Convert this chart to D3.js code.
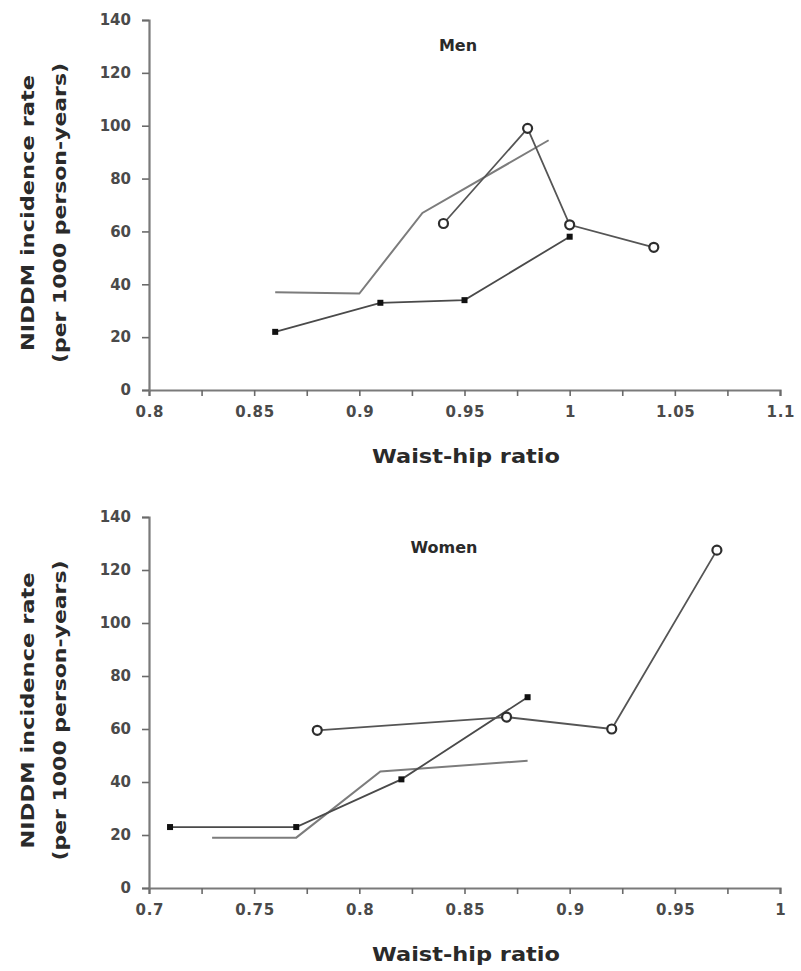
<!DOCTYPE html>
<html>
<head>
<meta charset="utf-8">
<script src="https://cdn.jsdelivr.net/npm/d3@7"></script>
<style>
  body { margin: 0; background: #fff; }
  svg { display: block; }
  .tick text { font-family: "DejaVu Sans", sans-serif; font-weight: bold; fill: #4a4a4a; }
  .lbl { font-family: "DejaVu Sans", sans-serif; font-weight: bold; fill: #2a2a2a; }
</style>
</head>
<body>
<svg id="chart" width="801" height="971"></svg>
<script>
// ---- data ----
const yTicks = [0, 20, 40, 60, 80, 100, 120, 140];

// Men
const menSquareX = [0.86, 0.91, 0.95, 1.00];
const menSquareY = [22, 33, 34, 58];
const menPlainX = [0.86, 0.90, 0.93, 0.99];
const menPlainY = [37, 36.5, 67, 94.5];
const menCircleX = [0.94, 0.98, 1.00, 1.04];
const menCircleY = [63, 99, 62.5, 54];

// Women
const womenSquareX = [0.71, 0.77, 0.82, 0.88];
const womenSquareY = [23, 23, 41, 72];
const womenPlainX = [0.73, 0.77, 0.81, 0.88];
const womenPlainY = [19, 19, 44, 48];
const womenCircleX = [0.78, 0.87, 0.92, 0.97];
const womenCircleY = [59.5, 64.5, 60, 127.5];

const panels = [
    {title: "Men", xDomain: [0.8, 1.1], top: 20, bottom: 390, titleX: 458, titleY: 51,
     squares: [menSquareX, menSquareY], plain: [menPlainX, menPlainY], circles: [menCircleX, menCircleY]},
    {title: "Women", xDomain: [0.7, 1.0], top: 517, bottom: 888, titleX: 444, titleY: 553,
     squares: [womenSquareX, womenSquareY], plain: [womenPlainX, womenPlainY], circles: [womenCircleX, womenCircleY]}
];

const svg = d3.select("#chart");
const left = 149, right = 780;

function zip(xs, ys) {
    return xs.map((x, i) => ({x: x, y: ys[i]}));
}

panels.forEach(function(p) {
    let g = svg.append("g");

    let xScale = d3.scaleLinear().domain(p.xDomain).range([left, right]);
    let yScale = d3.scaleLinear().domain([0, 140]).range([p.bottom, p.top]);

    // x axis, ticks every 0.025, labels every 0.05
    let xVals = d3.range(0, 13).map(i => p.xDomain[0] + i * 0.025);
    let xAxis = d3.axisBottom(xScale)
        .tickValues(xVals)
        .tickSize(6)
        .tickPadding(10)
        .tickFormat((d, i) => i % 2 === 0 ? String(+d.toFixed(2)) : "");
    let xg = g.append("g")
        .attr("transform", "translate(0," + p.bottom + ")")
        .call(xAxis);

    let yAxis = d3.axisLeft(yScale)
        .tickValues(yTicks)
        .tickSize(7)
        .tickPadding(11);
    let yg = g.append("g")
        .attr("transform", "translate(" + left + ",0)")
        .call(yAxis);

    [xg, yg].forEach(function(a) {
        a.select(".domain").attr("stroke", "#7a7a7a").attr("stroke-width", 2.2);
        a.selectAll(".tick line").attr("stroke", "#6a6a6a").attr("stroke-width", 1.6);
        a.selectAll(".tick text").style("font-size", "15px");
    });
    xg.selectAll(".tick text").attr("textLength", function() {
        return this.getComputedTextLength() * 1.05;
    });

    // series lines
    let line = d3.line().x(d => xScale(d.x)).y(d => yScale(d.y));

    g.append("path")
        .datum(zip(p.plain[0], p.plain[1]))
        .attr("d", line)
        .attr("fill", "none")
        .attr("stroke", "#7c7c7c")
        .attr("stroke-width", 2);

    g.append("path")
        .datum(zip(p.squares[0], p.squares[1]))
        .attr("d", line)
        .attr("fill", "none")
        .attr("stroke", "#4a4a4a")
        .attr("stroke-width", 1.8);

    g.append("path")
        .datum(zip(p.circles[0], p.circles[1]))
        .attr("d", line)
        .attr("fill", "none")
        .attr("stroke", "#555")
        .attr("stroke-width", 1.8);

    g.selectAll(".sq")
        .data(zip(p.squares[0], p.squares[1]))
        .enter().append("rect")
        .attr("class", "sq")
        .attr("x", d => xScale(d.x) - 3)
        .attr("y", d => yScale(d.y) - 3)
        .attr("width", 6)
        .attr("height", 6)
        .attr("fill", "#111");

    g.selectAll(".circ")
        .data(zip(p.circles[0], p.circles[1]))
        .enter().append("circle")
        .attr("class", "circ")
        .attr("cx", d => xScale(d.x))
        .attr("cy", d => yScale(d.y))
        .attr("r", 4.5)
        .attr("fill", "#fff")
        .attr("stroke", "#2e2e2e")
        .attr("stroke-width", 2.2);

    // panel title
    g.append("text")
        .attr("class", "lbl")
        .attr("x", p.titleX)
        .attr("y", p.titleY)
        .attr("text-anchor", "middle")
        .style("font-size", "16px")
        .text(p.title);

    // x axis title
    g.append("text")
        .attr("class", "lbl")
        .attr("x", 466)
        .attr("y", p.bottom + 73)
        .attr("text-anchor", "middle")
        .attr("textLength", 188)
        .attr("lengthAdjust", "spacingAndGlyphs")
        .style("font-size", "19px")
        .text("Waist-hip ratio");

    // y axis title, two lines
    let cy = (p.top + p.bottom) / 2 + 8;
    g.append("text")
        .attr("class", "lbl")
        .attr("transform", "translate(34," + cy + ") rotate(-90)")
        .attr("text-anchor", "middle")
        .attr("textLength", 276)
        .attr("lengthAdjust", "spacingAndGlyphs")
        .style("font-size", "18px")
        .text("NIDDM incidence rate");
    g.append("text")
        .attr("class", "lbl")
        .attr("transform", "translate(66," + cy + ") rotate(-90)")
        .attr("text-anchor", "middle")
        .attr("textLength", 300)
        .attr("lengthAdjust", "spacingAndGlyphs")
        .style("font-size", "18px")
        .text("(per 1000 person-years)");
});
</script>
</body>
</html>
